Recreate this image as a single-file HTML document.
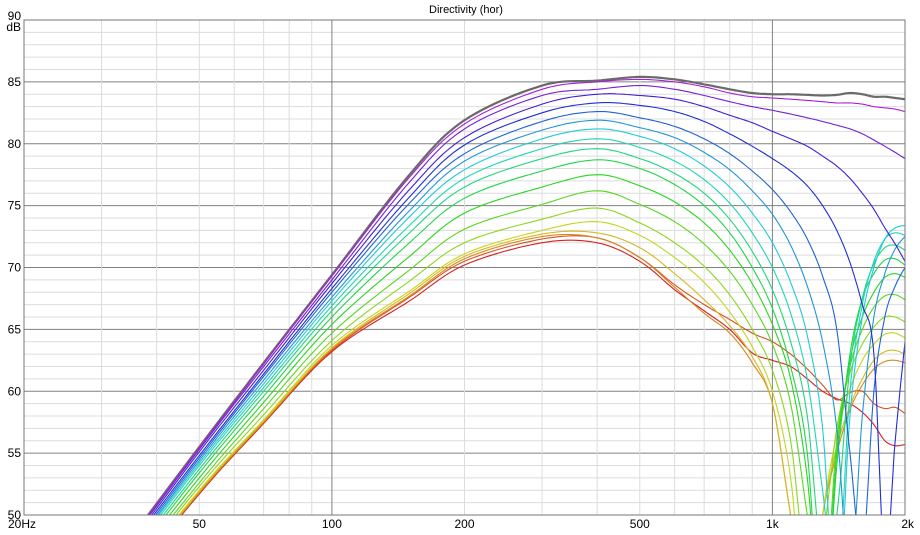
<!DOCTYPE html>
<html><head><meta charset="utf-8"><style>
html,body{margin:0;background:#fff;width:920px;height:535px;overflow:hidden;}
svg{display:block;font-family:"Liberation Sans",sans-serif;}
</style></head><body>
<svg id="chart" width="920" height="535" viewBox="0 0 920 535">
<text x="466" y="13" font-size="11" text-anchor="middle" fill="#000">Directivity (hor)</text>
<g id="grid"></g>
<g id="labels"></g>
<defs><clipPath id="clip"><rect x="24" y="20" width="881" height="495"/></clipPath></defs>
<g id="curves" clip-path="url(#clip)"></g>
<rect x="24" y="20" width="881" height="495" fill="none" stroke="#777" stroke-width="1"/>
</svg>
<script>
const freqs=[30,50,70,100,150,200,300,400,500,600,700,800,900,1000,1100,1200,1300,1400,1500,1600,1700,1800,1900,2000];
const yTicks=[50,55,60,65,70,75,80,85,90];
const xTickFreqs=[20,50,100,200,500,1000,2000];
const xTickLabels=["20Hz","50","100","200","500","1k","2k"];
const c0=[45,55.5,62.3,69.4,77.5,81.9,84.7,85.1,85.4,85.2,84.8,84.4,84.1,84.0,84.0,83.95,83.9,83.95,84.1,84.0,83.8,83.8,83.7,83.6];
const c1=[44.9,55.4,62.2,69.3,77.3,81.6,84.4,85.0,85.2,85.0,84.6,84.1,83.8,83.7,83.6,83.5,83.4,83.3,83.3,83.2,83.0,82.9,82.8,82.6];
const c2=[44.8,55.3,62.0,69.0,76.9,81.2,83.9,84.4,84.7,84.4,83.9,83.4,83.0,82.7,82.4,82.1,81.8,81.5,81.2,80.8,80.3,79.8,79.3,78.8];
const c3=[44.6,55.1,61.7,68.7,76.3,80.5,83.2,84.0,83.9,83.6,83.0,82.3,81.7,81.0,80.4,79.8,79.0,78.2,77.2,76.0,74.7,73.2,71.9,70.5];
const c4=[44.5,54.8,61.4,68.3,75.7,79.9,82.5,83.3,83.1,82.6,81.8,80.8,79.8,78.8,77.8,76.6,75.0,73.0,70.4,67.0,63,46,56,64];
const c5=[44.3,54.6,61.2,68.0,75.2,79.2,81.8,82.6,82.1,81.4,80.4,79.2,77.8,76.3,74.5,72.3,69.3,65,55,47,60,66,68.5,70];
const c6=[44.1,54.4,60.9,67.6,74.6,78.6,81.1,81.9,81.3,80.5,79.3,77.9,76.2,74.3,71.8,68.5,64,57,45,58,66,69.5,71.5,72.5];
const c7=[44,54.2,60.6,67.3,74.1,77.9,80.4,81.2,80.6,79.6,78.2,76.5,74.4,72.0,68.8,64.5,57,42,58,66,70,72.3,73.2,73.4];
const c8=[43.8,54.0,60.3,66.9,73.4,77.2,79.6,80.4,79.7,78.6,77.1,75.2,72.8,70.0,66.3,61,52,44,60,67,70.5,72.3,72.8,72.6];
const c9=[43.6,53.7,60.0,66.5,72.8,76.5,78.8,79.6,78.8,77.6,76.0,73.9,71.3,68.2,64.0,58,46,50,62,67.5,70.3,71.6,71.8,71.4];
const c10=[43.3,53.4,59.6,66.0,72.0,75.6,77.8,78.7,78.0,76.7,75.0,72.8,70.0,66.7,62,55,40,54,63,67.5,69.5,70.6,70.7,70.2];
const c11=[43,53.0,59.1,65.4,70.9,74.4,76.5,77.5,76.6,75.3,73.6,71.4,68.7,65.4,61,53,40,55,62.5,66,68,69.2,69.5,69.2];
const c12=[42.7,52.6,58.6,64.7,69.8,73.1,75.1,76.2,75.1,73.7,71.9,69.7,67.0,63.8,59,50,42,56,62,65,66.8,67.7,67.8,67.4];
const c13=[42.4,52.3,58.1,64.1,68.9,72.0,73.9,74.8,73.6,72.0,70.1,67.8,65.0,61.7,56,45,48,57,61.5,63.8,65.2,66,66,65.6];
const c14=[42.2,52.0,57.7,63.7,68.1,71.1,73.0,73.7,72.6,70.8,68.8,66.4,63.6,60.0,53,40,50,56.5,60.2,62.5,63.8,64.6,64.7,64.3];
const c15=[42.1,51.9,57.6,63.5,67.9,70.9,72.7,72.8,71.6,69.5,67.4,65.3,62.8,59.0,50,42,50,55.5,58.8,61,62.5,63.2,63.3,63.0];
const c16=[42.1,51.8,57.5,63.4,67.7,70.7,72.5,72.4,70.8,68.4,66.3,64.7,62.3,59.0,50,42,50,55,58.5,60.5,61.8,62.4,62.5,62.3];
const c17=[42,51.8,57.5,63.3,67.6,70.5,72.3,72.4,70.8,68.6,67.0,65.8,64.7,64.0,63.0,61.8,60.5,59.3,59.9,60.0,59.0,58.6,58.7,58.2];
const c18=[42,51.7,57.4,63.2,67.3,70.2,72.0,72.0,70.5,68.2,66.5,65.0,63.1,62.5,62.0,61.0,60.0,59.4,59.0,58.3,57.3,56.0,55.6,55.7];
const series=[c0,c1,c2,c3,c4,c5,c6,c7,c8,c9,c10,c11,c12,c13,c14,c15,c16,c17,c18];

const NS="http://www.w3.org/2000/svg";
const X0=24,X1=905,Y0=20,Y1=515;
function xs(f){return X0+(X1-X0)*Math.log10(f/20)/Math.log10(100);}
function ys(v){return Y1-(v-50)/40*(Y1-Y0);}
function mk(tag,attrs,parent){const e=document.createElementNS(NS,tag);for(const k in attrs)e.setAttribute(k,attrs[k]);parent.appendChild(e);return e;}
const grid=document.getElementById('grid');
for(let d=51;d<90;d++){
  const major=d%5===0;
  const l=mk('line',{x1:X0,x2:X1,y1:ys(d),y2:ys(d),stroke:major?'#808080':'#dcdcdc','stroke-width':1},grid);
  
  
}
const vf=[30,40,50,60,70,80,90,100,200,300,400,500,600,700,800,900,1000];
vf.forEach(f=>{
  const major=(f===100||f===1000);
  const l=mk('line',{x1:xs(f),x2:xs(f),y1:Y0,y2:Y1,stroke:major?'#808080':'#dcdcdc','stroke-width':1},grid);
  
  
});
const labels=document.getElementById('labels');
yTicks.forEach(v=>{
  const t=mk('text',{x:21,y:ys(v)+(v===90?0:4),'font-size':12,'text-anchor':'end',fill:'#000'},labels);
  t.textContent=v;
  
  
});
const u=mk('text',{x:21,y:ys(90)+11,'font-size':12,'text-anchor':'end',fill:'#000'},labels);
u.textContent='dB';


xTickFreqs.forEach((f,i)=>{
  let anchor='middle',x=xs(f);
  if(i===0){anchor='start';x=8;}
  if(i===xTickFreqs.length-1){anchor='end';x=914;}
  const t=mk('text',{x:x,y:528,'font-size':12,'text-anchor':anchor,fill:'#000'},labels);
  t.textContent=xTickLabels[i];
  
  
});
const curves=document.getElementById('curves');
function color(i){
  if(i===0)return '#6a6a6a';
  const h=285-(i-1)*(285/17);
  return 'hsl('+h.toFixed(0)+',75%,48%)';
}
const order=[0];
for(let i=series.length-1;i>=1;i--)order.push(i);
order.forEach(i=>{
  const vals=series[i];
  const pts=freqs.map((f,k)=>[xs(f),ys(vals[k])]);
  let d='M'+pts[0][0].toFixed(1)+','+pts[0][1].toFixed(1);
  for(let k=0;k<pts.length-1;k++){
    const p0=pts[Math.max(0,k-1)],p1=pts[k],p2=pts[k+1],p3=pts[Math.min(pts.length-1,k+2)];
    for(let s=1;s<=12;s++){
      const t=s/12,t2=t*t,t3=t2*t;
      const x=0.5*((2*p1[0])+(-p0[0]+p2[0])*t+(2*p0[0]-5*p1[0]+4*p2[0]-p3[0])*t2+(-p0[0]+3*p1[0]-3*p2[0]+p3[0])*t3);
      const y=0.5*((2*p1[1])+(-p0[1]+p2[1])*t+(2*p0[1]-5*p1[1]+4*p2[1]-p3[1])*t2+(-p0[1]+3*p1[1]-3*p2[1]+p3[1])*t3);
      d+=' L'+x.toFixed(1)+','+y.toFixed(1);
    }
  }
  const p=mk('path',{d:d,fill:'none',stroke:color(i),'stroke-width':i===0?2.2:1.1},curves);
  
  
});
</script>
</body></html>
